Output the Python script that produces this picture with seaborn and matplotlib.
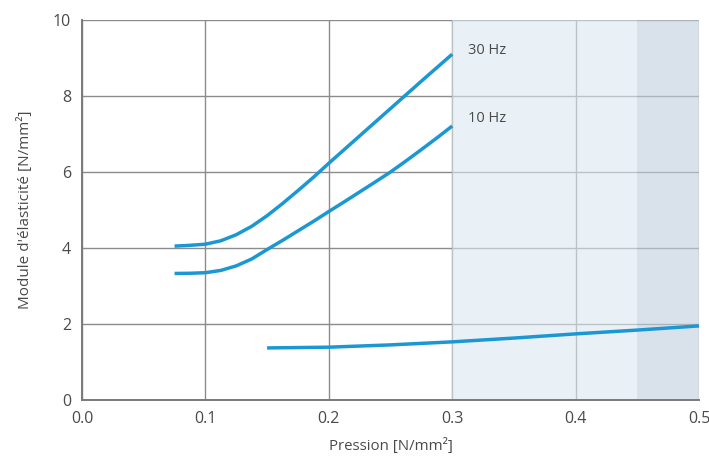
import matplotlib
matplotlib.use("Agg")
import matplotlib.pyplot as plt
import seaborn as sns
import pandas as pd

x_30hz = [0.075, 0.0875, 0.1, 0.1125, 0.125, 0.1375, 0.15, 0.1625, 0.175, 0.1875,
          0.2, 0.225, 0.25, 0.275, 0.3]
y_30hz = [4.05, 4.07, 4.1, 4.19, 4.35, 4.57, 4.85, 5.17, 5.51, 5.86,
          6.23, 6.95, 7.67, 8.39, 9.1]
x_10hz = [0.075, 0.0875, 0.1, 0.1125, 0.125, 0.1375, 0.15, 0.1625, 0.175, 0.1875,
          0.2, 0.2125, 0.225, 0.2375, 0.25, 0.2625, 0.275, 0.2875, 0.3]
y_10hz = [3.33, 3.335, 3.35, 3.41, 3.53, 3.71, 3.96, 4.2, 4.45, 4.7,
          4.96, 5.215, 5.475, 5.735, 6.0, 6.29, 6.59, 6.895, 7.21]
x_static = [0.15, 0.2, 0.25, 0.3, 0.35, 0.4, 0.45, 0.5]
y_static = [1.37, 1.39, 1.45, 1.53, 1.63, 1.74, 1.84, 1.95]

x_ticks = [0.0, 0.1, 0.2, 0.3, 0.4, 0.5]
y_ticks = [0, 2, 4, 6, 8, 10]
curve_labels = ["30 Hz", "10 Hz"]

sns.set_theme(style="whitegrid")
plt.rcParams['font.family'] = ['Open Sans', 'DejaVu Sans']

text_col = "#4a4a4a"
line_col = "#1b98d3"

fig = plt.figure(figsize=(7.09, 4.59), dpi=100)
ax = fig.add_axes([82 / 709, 59 / 459, 617 / 709, 380 / 459])

df = pd.concat([
    pd.DataFrame({"x": x_30hz, "y": y_30hz, "curve": "30"}),
    pd.DataFrame({"x": x_10hz, "y": y_10hz, "curve": "10"}),
    pd.DataFrame({"x": x_static, "y": y_static, "curve": "static"}),
])

# shaded pressure ranges
ax.axvspan(0.3, 0.45, color="#dce8f0", alpha=0.6, lw=0, zorder=1)
ax.axvspan(0.45, 0.5, color="#c0d0df", alpha=0.6, lw=0, zorder=1)

sns.lineplot(data=df, x="x", y="y", units="curve", estimator=None,
             color=line_col, lw=2.5, ax=ax, zorder=3, sort=False,
             solid_capstyle="butt", solid_joinstyle="round")

ax.text(0.313, 9.2, curve_labels[0], fontsize=10.5, color=text_col, va="center")
ax.text(0.313, 7.4, curve_labels[1], fontsize=10.5, color=text_col, va="center")

ax.set_xlim(0, 0.5)
ax.set_ylim(0, 10)
ax.set_xticks(x_ticks)
ax.set_xticklabels([f"{t:.1f}" for t in x_ticks])
ax.set_yticks(y_ticks)
ax.grid(True, color="#8c8c8c", lw=1.0)
ax.tick_params(labelsize=11.5, colors=text_col, length=0, pad=8)

for side in ["top", "right"]:
    ax.spines[side].set_visible(False)
for side in ["left", "bottom"]:
    ax.spines[side].set_color("#7a7a7a")
    ax.spines[side].set_linewidth(1.4)

ax.set_xlabel("Pression [N/mm²]", fontsize=10.8, color=text_col, labelpad=8)
ax.set_ylabel("Module d'élasticité [N/mm²]", fontsize=11, color=text_col, labelpad=14)

fig.savefig("out.png", dpi=100)
